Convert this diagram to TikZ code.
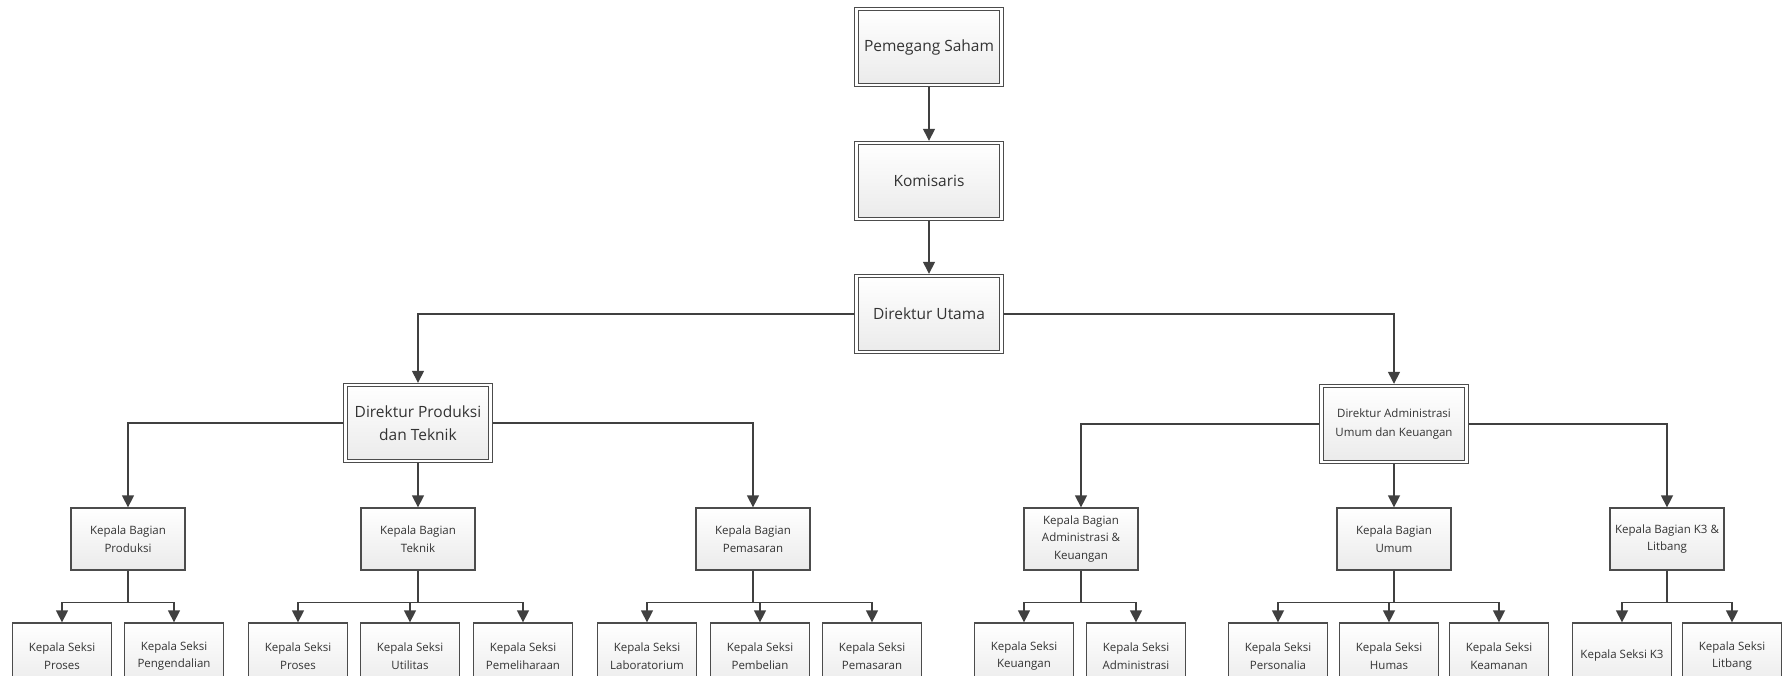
\documentclass[tikz,border=0pt]{standalone}
\usepackage{fontspec}
\setmainfont{Open Sans}
\usetikzlibrary{arrows.meta}

\begin{document}
\begin{tikzpicture}[x=1pt,y=-1pt,>={Triangle[width=12pt,length=12pt]},
        link/.style={->, draw=black!75, line width=1.4pt},
        top node/.style={draw=black!70, double=white, double distance=2.2pt, line width=1.1pt, outer sep=2.2pt,
            top color=white, bottom color=black!8, text=black!80, align=center, inner sep=2pt,
            minimum width=145pt, minimum height=76pt, font=\fontsize{15.5}{23}\selectfont},
        kabag node/.style={draw=black!70, line width=1.3pt, top color=white, bottom color=black!8, text=black!80,
            align=center, inner sep=2pt, minimum width=114pt, minimum height=62pt, font=\fontsize{11.5}{17.5}\selectfont},
        kasi node/.style={kabag node, minimum width=99pt, minimum height=66pt}]
        \useasboundingbox (0,0) rectangle (1783,675);
        \clip (0,0) rectangle (1783,675);

        % nodes
        \node[top node] (PS) at (929,47) {Pemegang Saham};
        \node[top node] (KOM) at (929,181) {Komisaris};
        \node[top node] (DU) at (929,314) {Direktur Utama};
        \node[top node] (DPT) at (418,423) {Direktur Produksi\\dan Teknik};
        \node[top node, font=\fontsize{11.5}{19}\selectfont] (DAU) at (1394,424) {Direktur Administrasi\\Umum dan Keuangan};

        \node[kabag node] (BP) at (128,539) {Kepala Bagian\\Produksi};
        \node[kabag node] (BT) at (418,539) {Kepala Bagian\\Teknik};
        \node[kabag node] (BM) at (753,539) {Kepala Bagian\\Pemasaran};
        \node[kabag node] (BA) at (1081,539) {Kepala Bagian\\Administrasi \&\\Keuangan};
        \node[kabag node] (BU) at (1394,539) {Kepala Bagian\\Umum};
        \node[kabag node] (BK) at (1667,539) {Kepala Bagian K3 \&\\Litbang};

        \node[kasi node] (SP1) at (62,656) {Kepala Seksi\\Proses};
        \node[kasi node] (SP2) at (174,656) {Kepala Seksi\\Pengendalian};
        \node[kasi node] (ST1) at (298,656) {Kepala Seksi\\Proses};
        \node[kasi node] (ST2) at (410,656) {Kepala Seksi\\Utilitas};
        \node[kasi node] (ST3) at (523,656) {Kepala Seksi\\Pemeliharaan};
        \node[kasi node] (SM1) at (647,656) {Kepala Seksi\\Laboratorium};
        \node[kasi node] (SM2) at (760,656) {Kepala Seksi\\Pembelian};
        \node[kasi node] (SM3) at (872,656) {Kepala Seksi\\Pemasaran};
        \node[kasi node] (SA1) at (1024,656) {Kepala Seksi\\Keuangan};
        \node[kasi node] (SA2) at (1136,656) {Kepala Seksi\\Administrasi};
        \node[kasi node] (SU1) at (1278,656) {Kepala Seksi\\Personalia};
        \node[kasi node] (SU2) at (1389,656) {Kepala Seksi\\Humas};
        \node[kasi node] (SU3) at (1499,656) {Kepala Seksi\\Keamanan};
        \node[kasi node] (SK1) at (1622,656) {Kepala Seksi K3};
        \node[kasi node] (SK2) at (1732,656) {Kepala Seksi\\Litbang};

        % arrows
        \draw[link] (PS.south) -- (KOM.north);
        \draw[link] (KOM.south) -- (DU.north);
        \draw[link] (DU.west) -| (DPT.north);
        \draw[link] (DU.east) -| (DAU.north);

        \draw[link] (DPT.west) -| (BP.north);
        \draw[link] (DPT.south) -- (BT.north);
        \draw[link] (DPT.east) -| (BM.north);
        \draw[link] (DAU.west) -| (BA.north);
        \draw[link] (DAU.south) -- (BU.north);
        \draw[link] (DAU.east) -| (BK.north);

        \draw[link] (BP.south) -- ++(0,32) -| (SP1.north);
        \draw[link] (BP.south) -- ++(0,32) -| (SP2.north);
        \draw[link] (BT.south) -- ++(0,32) -| (ST1.north);
        \draw[link] (BT.south) -- ++(0,32) -| (ST2.north);
        \draw[link] (BT.south) -- ++(0,32) -| (ST3.north);
        \draw[link] (BM.south) -- ++(0,32) -| (SM1.north);
        \draw[link] (BM.south) -- ++(0,32) -| (SM2.north);
        \draw[link] (BM.south) -- ++(0,32) -| (SM3.north);
        \draw[link] (BA.south) -- ++(0,32) -| (SA1.north);
        \draw[link] (BA.south) -- ++(0,32) -| (SA2.north);
        \draw[link] (BU.south) -- ++(0,32) -| (SU1.north);
        \draw[link] (BU.south) -- ++(0,32) -| (SU2.north);
        \draw[link] (BU.south) -- ++(0,32) -| (SU3.north);
        \draw[link] (BK.south) -- ++(0,32) -| (SK1.north);
        \draw[link] (BK.south) -- ++(0,32) -| (SK2.north);

      \end{tikzpicture}
\end{document}
